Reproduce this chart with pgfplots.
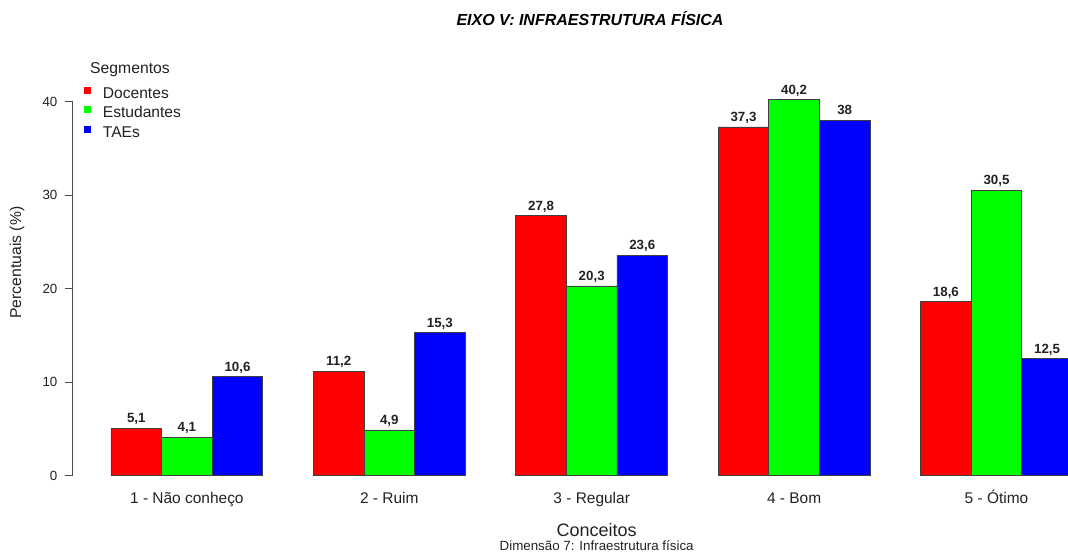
\documentclass[border=0pt]{standalone}
\usepackage{pgfplots}
\pgfplotsset{compat=1.18}
\usepackage{fontspec}
\setmainfont{Liberation Sans}
\definecolor{txt}{HTML}{222222}
\begin{document}
\begin{tikzpicture}
\begin{axis}[
  at={(54.5pt,58.7pt)}, anchor=south west,
  scale only axis, width=746.5pt, height=280.5pt,
  xmin=0.243, xmax=19.913, ymin=0, ymax=40,
  clip=false,
  axis x line*=bottom, axis y line*=left,
  x axis line style={draw=none},
  y axis line style={draw=black!70, line width=0.75pt},
  ytick={0,10,20,30,40},
  ytick style={draw=black!70, line width=0.75pt},
  tick align=outside, major tick length=5.5pt,
  yticklabel style={font=\fontsize{10}{12}\selectfont, text=txt, inner sep=0pt, xshift=-5.8pt},
  /pgf/number format/assume math mode=true,
  xtick={2.5,6.5,10.5,14.5,18.5},
  xticklabels={1 - Não conheço, 2 - Ruim, 3 - Regular, 4 - Bom, 5 - Ótimo},
  xtick style={draw=none},
  xticklabel style={font=\fontsize{11.6}{13}\selectfont, text=txt, anchor=base, inner sep=0pt, yshift=-15pt},
  ybar, bar width=1, bar shift=0pt,
  every axis plot/.append style={draw=black!75, line width=0.6pt},
  nodes near coords={\pgfmathprintnumber[use comma, fixed, precision=1]{\pgfplotspointmeta}},
  nodes near coords style={font=\bfseries\fontsize{10}{12}\selectfont, text=txt, anchor=base, inner sep=0pt, yshift=4.2pt},
  legend style={at={(0.0107,1.0503)}, anchor=north west, draw=none, fill=none, inner sep=0pt,
    font=\fontsize{11.7}{14}\selectfont, text=txt,
    nodes={inner sep=0pt, text height=8.5pt, text depth=2.5pt, text=txt},
    row sep=0.6pt, column sep=0pt},
  legend cell align=left,
  legend image code/.code={\path[draw=none,fill=none] (0pt,-2.5pt) rectangle (14.5pt,8.5pt); \path[#1,draw=none] (0pt,0.4pt) rectangle (5.5pt,5.9pt);},
]
\addplot[fill=red] coordinates {(1.5,5.1) (5.5,11.2) (9.5,27.8) (13.5,37.3) (17.5,18.6)};
\addplot[fill=green] coordinates {(2.5,4.1) (6.5,4.9) (10.5,20.3) (14.5,40.2) (18.5,30.5)};
\addplot[fill=blue] coordinates {(3.5,10.6) (7.5,15.3) (11.5,23.6) (15.5,38) (19.5,12.5)};
\legend{Docentes, Estudantes, TAEs}
\end{axis}
\node[anchor=base, font=\bfseries\itshape\fontsize{12}{14}\selectfont, text=black] at (442.5pt,396pt) {EIXO V: INFRAESTRUTURA FÍSICA};
\node[anchor=base, font=\fontsize{11.8}{14}\selectfont, text=txt] at (97.5pt,360.2pt) {Segmentos};
\node[rotate=90, font=\fontsize{11.8}{14}\selectfont, text=txt] at (12.75pt,218.6pt) {Percentuais (\%)};
\node[anchor=base, font=\fontsize{13.5}{16}\selectfont, text=txt] at (447.5pt,13pt) {Conceitos};
\node[anchor=base, font=\fontsize{10}{12}\selectfont, text=txt] at (447.5pt,3pt) {Dimensão 7: Infraestrutura física};
\pgfresetboundingbox
\path[use as bounding box] (0,0) rectangle (801pt,415.5pt);
\end{tikzpicture}
\end{document}
